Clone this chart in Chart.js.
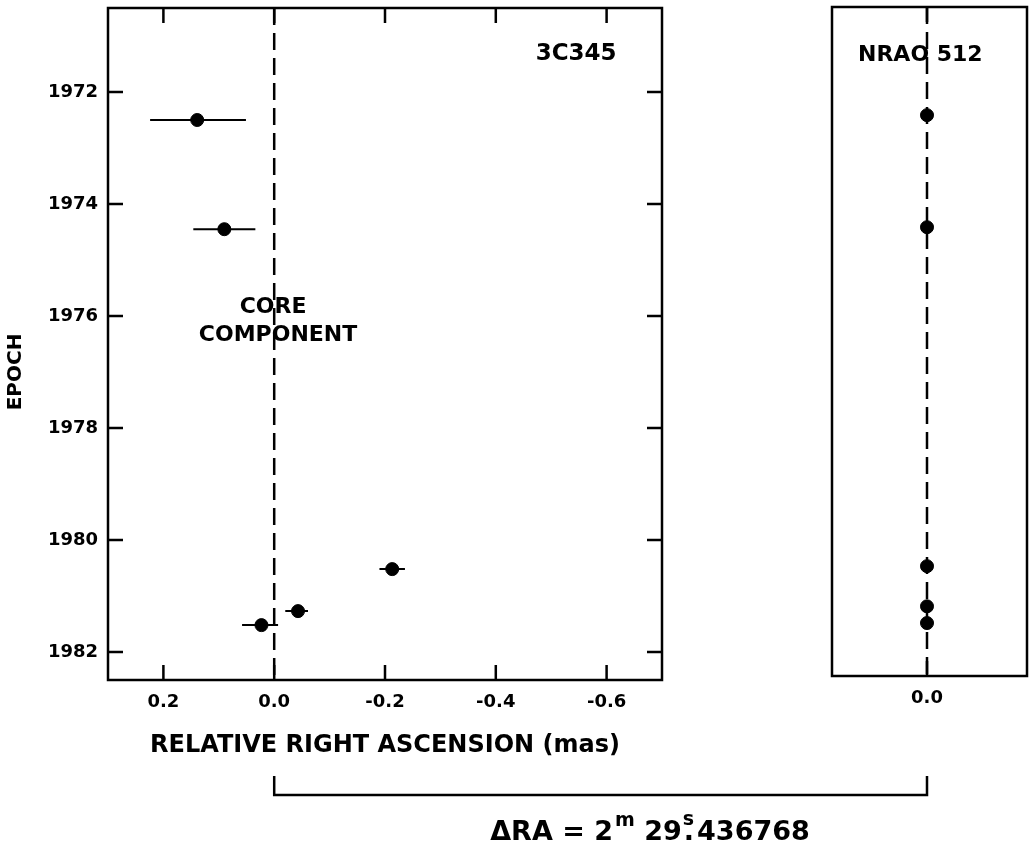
<!DOCTYPE html>
<html>
<head>
<meta charset="utf-8">
<script src="https://cdn.jsdelivr.net/npm/chart.js@4.4.0/dist/chart.umd.min.js"></script>
<style>
html, body { margin: 0; padding: 0; background: #fff; }
#wrap { position: relative; width: 1030px; height: 844px; }
canvas { position: absolute; left: 0; top: 0; }
</style>
</head>
<body>
<div id="wrap">
  <canvas id="leftChart" width="1030" height="844"></canvas>
  <canvas id="rightChart" width="1030" height="844"></canvas>
</div>
<script>
// 3C345 core component: epoch, relative RA (mas) and error bar ends
const coreEpoch = [1972.5, 1974.45, 1980.52, 1981.27, 1981.52];
const coreRA    = [0.139, 0.090, -0.213, -0.043, 0.023];
const coreRAlo  = [0.224, 0.146, -0.190, -0.020, 0.058];
const coreRAhi  = [0.051, 0.034, -0.236, -0.061, -0.007];

// NRAO 512 reference source
const refEpoch = [1972.44, 1974.45, 1980.53, 1981.25, 1981.55];
const refRA    = [0, 0, 0, 0, 0];

// axes
const epochRange = [1970.5, 1982.5];
const epochTicks = [1972, 1974, 1976, 1978, 1980, 1982];
const raTicksLeft = [0.2, 0.0, -0.2, -0.4, -0.6];
const raTicksRight = [0.0];

const FONT = "'DejaVu Sans', 'Liberation Sans', sans-serif";

const fmtRA = v => (Math.abs(v) < 1e-9 ? 0 : v).toFixed(1);

// frame with inward ticks
const framePlugin = {
  id: 'frame',
  afterDraw(chart, args, opts) {
    const { ctx, chartArea: a, scales } = chart;
    const tl = 15;
    ctx.save();
    ctx.strokeStyle = '#000';
    ctx.lineWidth = 2.5;
    ctx.strokeRect(a.left, a.top, a.right - a.left, a.bottom - a.top);
    ctx.beginPath();
    scales.x.ticks.forEach(t => {
      const px = scales.x.getPixelForValue(t.value);
      ctx.moveTo(px, a.top); ctx.lineTo(px, a.top + tl);
      ctx.moveTo(px, a.bottom); ctx.lineTo(px, a.bottom - tl);
    });
    if (opts.yTicks) {
      scales.y.ticks.forEach(t => {
        const py = scales.y.getPixelForValue(t.value);
        ctx.moveTo(a.left, py); ctx.lineTo(a.left + tl, py);
        ctx.moveTo(a.right, py); ctx.lineTo(a.right - tl, py);
      });
    }
    ctx.stroke();
    ctx.restore();
  }
};

// horizontal error bars for the core component
const errorBarPlugin = {
  id: 'errbars',
  beforeDatasetsDraw(chart, args, opts) {
    if (!opts.lo) return;
    const { ctx, scales: { x, y } } = chart;
    ctx.save();
    ctx.strokeStyle = '#000';
    ctx.lineWidth = 2;
    ctx.beginPath();
    opts.lo.forEach((lo, i) => {
      const py = y.getPixelForValue(opts.epoch[i]);
      ctx.moveTo(x.getPixelForValue(lo), py);
      ctx.lineTo(x.getPixelForValue(opts.hi[i]), py);
    });
    ctx.stroke();
    ctx.restore();
  }
};

// text labels placed in data coordinates
const labelPlugin = {
  id: 'labels',
  afterDraw(chart, args, opts) {
    if (!opts.items) return;
    const { ctx, scales: { x, y } } = chart;
    ctx.save();
    ctx.fillStyle = '#000';
    ctx.textAlign = 'center';
    ctx.textBaseline = 'middle';
    opts.items.forEach(it => {
      ctx.font = 'bold ' + it.size + 'px ' + FONT;
      ctx.fillText(it.text, x.getPixelForValue(it.x), y.getPixelForValue(it.y));
    });
    ctx.restore();
  }
};

function dashedZero(range) {
  return {
    type: 'line',
    data: [{ x: 0, y: range[0] }, { x: 0, y: range[1] }],
    borderColor: '#000',
    borderWidth: 2.5,
    borderDash: [17, 8],
    pointRadius: 0,
    order: 2
  };
}

function baseScales(xMin, xMax, xTicks, showY) {
  return {
    x: {
      type: 'linear', min: xMin, max: xMax, reverse: true,
      afterBuildTicks: s => { s.ticks = xTicks.map(v => ({ value: v })); },
      afterFit: s => { s.height = 80; s.paddingLeft = 0; s.paddingRight = 0; },
      grid: { display: false, drawTicks: false },
      border: { display: false },
      ticks: { color: '#000', padding: 12, font: { family: FONT, size: 18, weight: 'bold' }, callback: v => fmtRA(v) },
      title: showY ? {
        display: true, text: 'RELATIVE RIGHT ASCENSION (mas)', color: '#000',
        font: { family: FONT, size: 24, weight: 'bold' }, padding: { top: 0, bottom: 0 }
      } : { display: false }
    },
    y: {
      type: 'linear', min: epochRange[0], max: epochRange[1], reverse: true,
      display: showY,
      afterBuildTicks: s => { s.ticks = epochTicks.map(v => ({ value: v })); },
      afterFit: s => { s.width = showY ? 108 : 0; s.paddingTop = 0; s.paddingBottom = 0; },
      grid: { display: false, drawTicks: false },
      border: { display: false },
      ticks: { color: '#000', padding: 10, font: { family: FONT, size: 18, weight: 'bold' }, callback: v => String(v) }
    }
  };
}

const rightChart = new Chart(document.getElementById('rightChart'), {
  type: 'scatter',
  data: {
    datasets: [
      {
        data: refRA.map((v, i) => ({ x: v, y: refEpoch[i] })),
        backgroundColor: '#000', borderColor: '#000', pointRadius: 6.5, order: 1
      },
      dashedZero(epochRange)
    ]
  },
  options: {
    responsive: false, animation: false, devicePixelRatio: 1,
    layout: { autoPadding: false, padding: { left: 832, right: 3, top: 7, bottom: 88 } },
    scales: baseScales(-0.18, 0.171, raTicksRight, false),
    plugins: {
      legend: { display: false }, tooltip: { enabled: false },
      frame: { yTicks: false },
      labels: { items: [{ text: 'NRAO 512', x: 0.012, y: 1971.36, size: 22 }] }
    }
  },
  plugins: [framePlugin, labelPlugin]
});

// extra left-chart drawing: EPOCH title, bracket and ΔRA note
const notesPlugin = {
  id: 'notes',
  afterDraw(chart) {
    const { ctx, scales: { x, y }, chartArea: a } = chart;
    ctx.save();
    ctx.fillStyle = '#000';
    ctx.strokeStyle = '#000';

    // EPOCH rotated title
    ctx.font = 'bold 20px ' + FONT;
    ctx.textAlign = 'center';
    ctx.textBaseline = 'middle';
    ctx.translate(16, y.getPixelForValue(1977));
    ctx.rotate(-Math.PI / 2);
    ctx.fillText('EPOCH', 0, 0);
    ctx.setTransform(1, 0, 0, 1, 0, 0);

    // bracket joining the two zero positions
    const x1 = x.getPixelForValue(0);
    const x2 = rightChart.scales.x.getPixelForValue(0);
    const yb = a.bottom + 115, yt = a.bottom + 96;
    ctx.lineWidth = 2.5;
    ctx.beginPath();
    ctx.moveTo(x1, yt); ctx.lineTo(x1, yb); ctx.lineTo(x2, yb); ctx.lineTo(x2, yt);
    ctx.stroke();

    // ΔRA = 2m 29s.436768
    const base = 840;
    const big = 'bold 27px ' + FONT, small = 'bold 19px ' + FONT;
    const parts = [
      { t: 'ΔRA = 2', f: big, dy: 0 },
      { t: 'm', f: small, dy: -14, gap: 2 },
      { t: ' 29', f: big, dy: 0 },
      { t: 's', f: small, dy: -15, gap: 1, dot: true },
      { t: '436768', f: big, dy: 0, gap: 3 }
    ];
    let total = 0;
    parts.forEach(p => { ctx.font = p.f; p.w = ctx.measureText(p.t).width + (p.gap || 0); total += p.w; });
    let cx = 650 - total / 2;
    ctx.textAlign = 'left';
    ctx.textBaseline = 'alphabetic';
    parts.forEach(p => {
      ctx.font = p.f;
      ctx.fillText(p.t, cx + (p.gap || 0), base + p.dy);
      if (p.dot) {
        ctx.font = big;
        ctx.fillText('.', cx + (p.gap || 0) + 1, base);
      }
      cx += p.w;
    });
    ctx.restore();
  }
};

new Chart(document.getElementById('leftChart'), {
  type: 'scatter',
  data: {
    datasets: [
      {
        data: coreRA.map((v, i) => ({ x: v, y: coreEpoch[i] })),
        backgroundColor: '#000', borderColor: '#000', pointRadius: 6.5, order: 1
      },
      dashedZero(epochRange)
    ]
  },
  options: {
    responsive: false, animation: false, devicePixelRatio: 1,
    layout: { autoPadding: false, padding: { left: 0, right: 368, top: 8, bottom: 84 } },
    scales: baseScales(-0.7, 0.3, raTicksLeft, true),
    plugins: {
      legend: { display: false }, tooltip: { enabled: false },
      frame: { yTicks: true },
      errbars: { lo: coreRAlo, hi: coreRAhi, epoch: coreEpoch },
      labels: {
        items: [
          { text: '3C345', x: -0.545, y: 1971.32, size: 23 },
          { text: 'CORE', x: 0.002, y: 1975.84, size: 22 },
          { text: 'COMPONENT', x: -0.007, y: 1976.34, size: 22 }
        ]
      }
    }
  },
  plugins: [framePlugin, errorBarPlugin, labelPlugin, notesPlugin]
});
</script>
</body>
</html>
